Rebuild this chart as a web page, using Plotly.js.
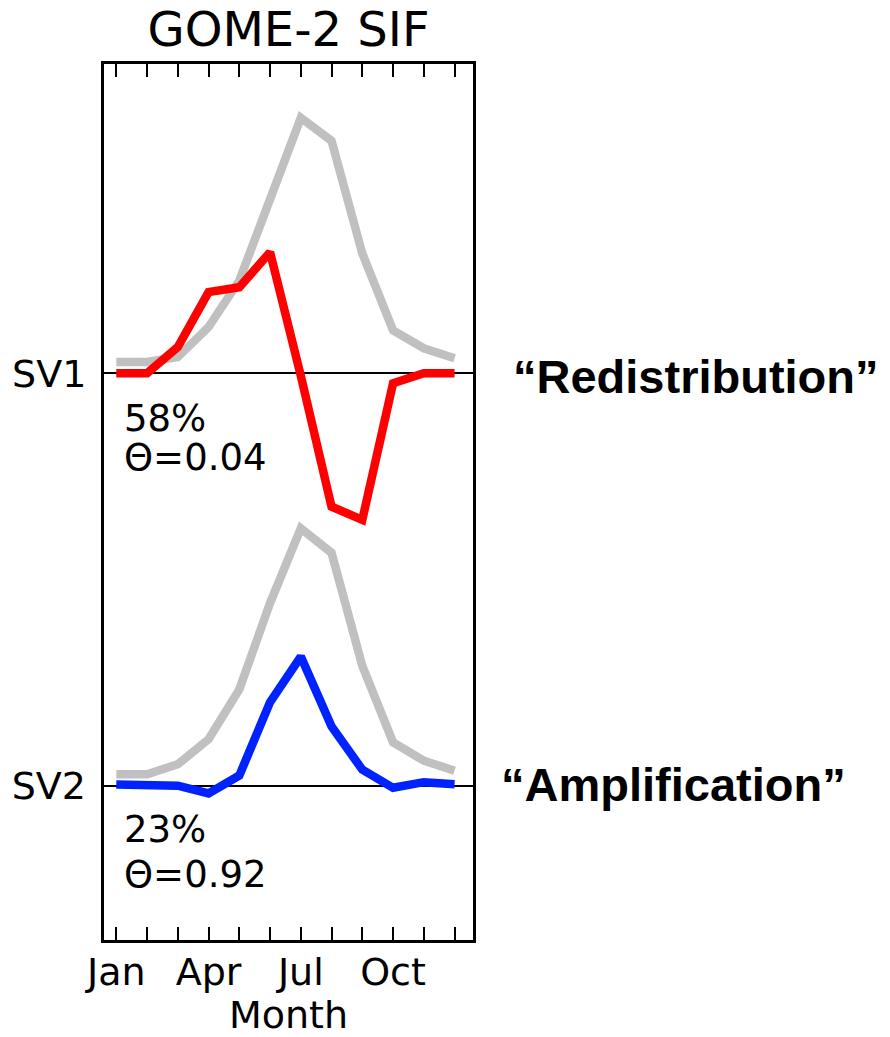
<!DOCTYPE html>
<html>
<head>
<meta charset="utf-8">
<script src="https://cdn.plot.ly/plotly-3.0.1.min.js"></script>
<style>html,body{margin:0;padding:0;background:#fff;}#chart{width:890px;height:1037px;}</style>
</head>
<body>
<div id="chart"></div>
<script>
// Months (1 = Jan ... 12 = Dec)
const months = [1,2,3,4,5,6,7,8,9,10,11,12];
const monthTickText = ['Jan','','','Apr','','','Jul','','','Oct','',''];

// Mean seasonal cycle of GOME-2 SIF (normalised), drawn behind each singular vector
const meanCycleSV1 = [0.044, 0.044, 0.064, 0.181, 0.363, 0.676, 1.000, 0.910, 0.469, 0.168, 0.098, 0.059];
const meanCycleSV2 = [0.045, 0.045, 0.084, 0.182, 0.377, 0.715, 1.008, 0.912, 0.469, 0.170, 0.098, 0.059];

// Singular vectors
const sv1 = [0, 0, 0.103, 0.318, 0.337, 0.474, -0.01, -0.522, -0.574, -0.039, 0, 0];
const sv2 = [0.005, 0.005, 0.0, -0.03, 0.04, 0.327, 0.506, 0.232, 0.063, -0.008, 0.014, 0.006];

const svLabels = ['SV1', 'SV2'];
const svVariance = ['58%', '23%'];
const svTheta = ['Θ=0.04', 'Θ=0.92'];
const svNames = ['“Redistribution”', '“Amplification”'];

const FONT = 'DejaVu Sans, sans-serif';
const LW = 8.5;

const traces = [
  {x: months, y: meanCycleSV1, type: 'scatter', mode: 'lines', yaxis: 'y',
   line: {color: '#c0c0c0', width: LW}, hoverinfo: 'skip', showlegend: false},
  {x: months, y: sv1, type: 'scatter', mode: 'lines', yaxis: 'y',
   line: {color: '#ff0000', width: LW}, showlegend: false},
  {x: months, y: meanCycleSV2, type: 'scatter', mode: 'lines', yaxis: 'y2',
   line: {color: '#c0c0c0', width: LW}, hoverinfo: 'skip', showlegend: false},
  {x: months, y: sv2, type: 'scatter', mode: 'lines', yaxis: 'y2',
   line: {color: '#0022ff', width: LW}, showlegend: false}
];

const txtFont = {family: FONT, size: 37, color: '#000'};
const boldFont = {family: 'Liberation Sans, Arial, sans-serif', size: 47, color: '#000', weight: 'bold'};

const layout = {
  width: 890, height: 1037,
  margin: {l: 104, r: 417, t: 64, b: 97, pad: 0},
  paper_bgcolor: '#fff', plot_bgcolor: '#fff',
  font: {family: FONT, size: 38, color: '#000'},
  title: {text: 'GOME-2 SIF', font: {family: FONT, size: 48, color: '#000'},
          x: 0.5, xref: 'paper', xanchor: 'center', y: 0.972, yref: 'container', yanchor: 'middle'},
  xaxis: {range: [0.6, 12.6], tickvals: months, ticktext: monthTickText,
          ticks: 'inside', ticklen: 13, tickwidth: 2, tickcolor: '#000',
          showline: true, linewidth: 3, linecolor: '#000', mirror: 'ticks',
          showgrid: false, zeroline: false, ticklabelstandoff: -4,
          tickfont: {family: FONT, size: 38, color: '#000'},
          title: {text: 'Month', font: {family: FONT, size: 38, color: '#000'}, standoff: 14}},
  yaxis: {range: [-2.219, 1.211], tickvals: [0], ticktext: [svLabels[0]], ticks: '',
          showline: true, linewidth: 3, linecolor: '#000', mirror: true,
          showgrid: false, zeroline: true, zerolinecolor: '#000', zerolinewidth: 2,
          tickfont: {family: FONT, size: 38, color: '#000'}, ticklabelstandoff: 7},
  yaxis2: {range: [-0.604, 2.826], overlaying: 'y', side: 'left', tickvals: [0], ticktext: [svLabels[1]], ticks: '',
          showline: false, showgrid: false, zeroline: true, zerolinecolor: '#000', zerolinewidth: 2,
          tickfont: {family: FONT, size: 38, color: '#000'}, ticklabelstandoff: 17},
  annotations: [
    {text: svVariance[0], xref: 'paper', yref: 'paper', x: 0.049, y: 0.5958, xanchor: 'left', yanchor: 'middle', height: 36, valign: 'middle', showarrow: false, font: txtFont},
    {text: svTheta[0], xref: 'paper', yref: 'paper', x: 0.049, y: 0.5519, xanchor: 'left', yanchor: 'middle', height: 36, valign: 'middle', showarrow: false, font: txtFont},
    {text: svVariance[1], xref: 'paper', yref: 'paper', x: 0.049, y: 0.1271, xanchor: 'left', yanchor: 'middle', height: 36, valign: 'middle', showarrow: false, font: txtFont},
    {text: svTheta[1], xref: 'paper', yref: 'paper', x: 0.049, y: 0.075, xanchor: 'left', yanchor: 'middle', height: 36, valign: 'middle', showarrow: false, font: txtFont},
    {text: svNames[0], xref: 'paper', yref: 'paper', x: 1.102, y: 0.6437, xanchor: 'left', yanchor: 'middle', showarrow: false, font: boldFont},
    {text: svNames[1], xref: 'paper', yref: 'paper', x: 1.070, y: 0.1773, xanchor: 'left', yanchor: 'middle', showarrow: false, font: boldFont}
  ]
};

Plotly.newPlot('chart', traces, layout, {displayModeBar: false, staticPlot: true});
</script>
</body>
</html>
